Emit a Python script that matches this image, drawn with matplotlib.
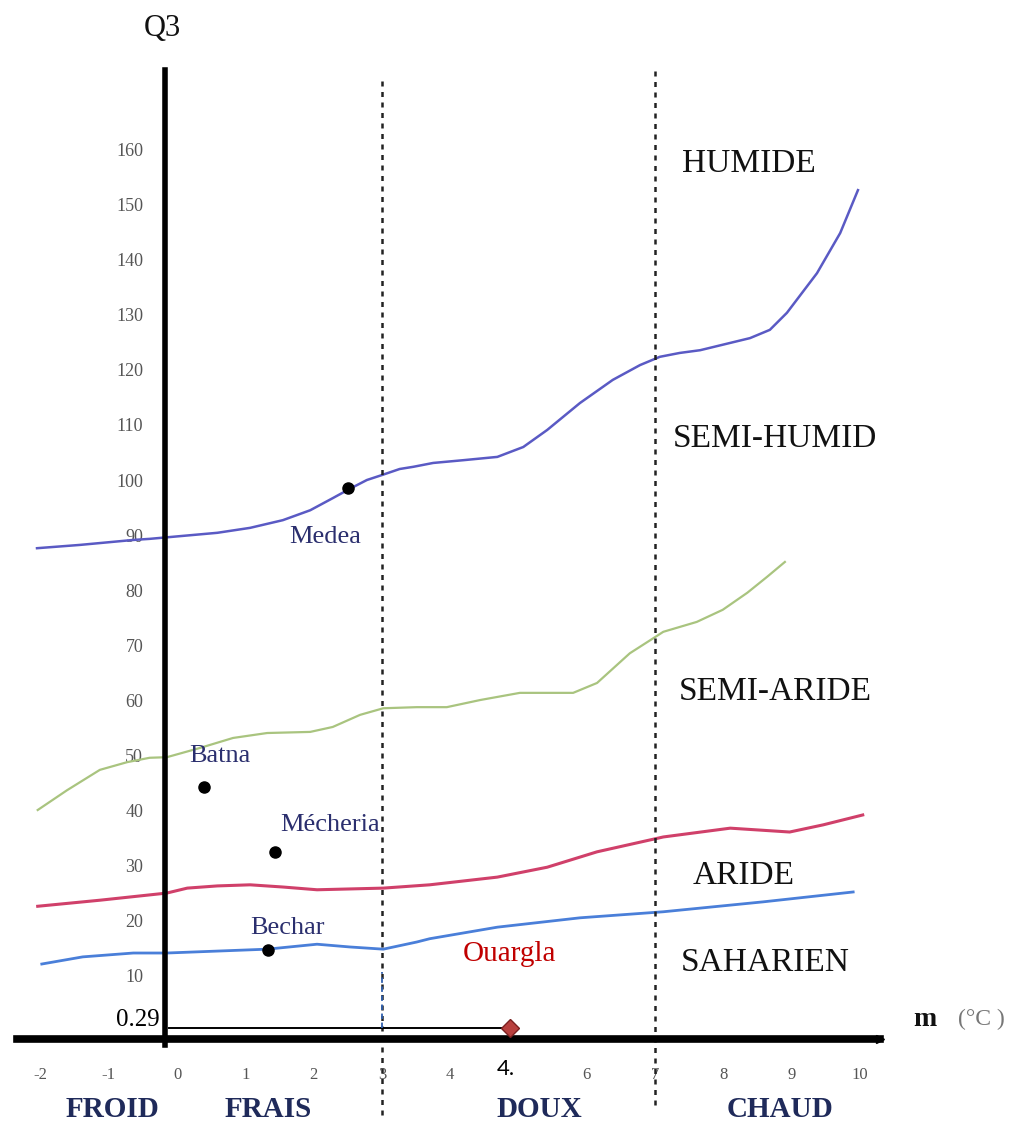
import numpy as np
import matplotlib
matplotlib.use("Agg")
import matplotlib.pyplot as plt

plt.rcParams['font.family'] = 'Liberation Serif'
plt.rcParams['axes.unicode_minus'] = False

# boundary curves of the climagram (m in degC, Q3)
humide_m = [-2.05, -1.42, -0.64, -0.40, 0.59, 1.07, 1.55, 1.95, 2.28, 2.53, 2.78, 3.00, 3.26,
            3.46, 3.75, 4.19, 4.69, 5.07, 5.42, 5.90, 6.38, 6.78, 7.07, 7.36, 7.66, 8.39, 8.68,
            8.93, 9.37, 9.71, 9.97]
humide_q = [87.6, 88.2, 89.1, 89.3, 90.4, 91.3, 92.7, 94.5, 96.7, 98.4, 100.0, 100.9, 102.0,
            102.4, 103.1, 103.6, 104.2, 106.0, 109.1, 114.0, 118.2, 120.9, 122.4, 123.1, 123.6,
            125.8, 127.3, 130.4, 137.6, 144.9, 152.7]

semiaride_m = [-2.04, -1.61, -1.13, -0.73, -0.40, -0.15, 0.34, 0.82, 1.32, 1.95, 2.28, 2.68,
               3.02, 3.51, 3.95, 4.44, 5.02, 5.80, 6.15, 6.63, 7.12, 7.61, 7.99, 8.35, 8.64, 8.90]
semiaride_q = [40.0, 43.6, 47.3, 48.7, 49.5, 49.6, 51.3, 53.1, 54.0, 54.2, 55.1, 57.3,
               58.5, 58.7, 58.7, 60.0, 61.3, 61.3, 63.1, 68.5, 72.4, 74.2, 76.4, 79.5, 82.4, 85.1]

aride_m = [-2.04, -1.13, -0.15, 0.15, 0.59, 1.07, 1.55, 2.05, 3.02, 3.70, 4.69, 5.42, 6.15,
           7.12, 8.10, 8.97, 9.46, 10.04]
aride_q = [22.5, 23.6, 24.9, 25.8, 26.2, 26.4, 26.0, 25.5, 25.8, 26.4, 27.8, 29.6, 32.4,
           35.1, 36.7, 36.0, 37.3, 39.1]

saharien_m = [-1.98, -1.38, -0.64, -0.15, 1.32, 2.05, 2.53, 3.02, 3.51, 3.70, 4.69, 5.90,
              7.12, 8.58, 9.90]
saharien_q = [12.0, 13.3, 14.0, 14.0, 14.7, 15.6, 15.1, 14.7, 16.0, 16.6, 18.7, 20.4,
              21.5, 23.3, 25.1]

# stations
stations = ['Medea', 'Batna', 'Mécheria', 'Bechar']
st_m = [2.51, 0.40, 1.43, 1.33]
st_q = [98.6, 44.2, 32.4, 14.5]

ouargla_m = 4.88
ouargla_q = 0.29

zones = ['HUMIDE', 'SEMI-HUMID', 'SEMI-ARIDE', 'ARIDE', 'SAHARIEN']
zone_q = [157.5, 107.5, 61.5, 28.0, 12.3]
zone_m = [8.37, 8.76, 8.76, 8.30, 8.61]
winters = ['FROID', 'FRAIS', 'DOUX', 'CHAUD']
winter_m = [-0.95, 1.33, 5.31, 8.83]

xticks = [-2, -1, 0, 1, 2, 3, 4, 6, 7, 8, 9, 10]
yticks = list(range(10, 170, 10))

fig = plt.figure(figsize=(10.19, 11.37), dpi=100)
ax = fig.add_axes([0, 0, 1, 1])
ax.set_xlim(-2.592, 12.328)
ax.set_ylim(-19.45, 187.27)

ax.plot(humide_m, humide_q, color='#5a5ac4', lw=1.8, zorder=2)
ax.plot(semiaride_m, semiaride_q, color='#a9c47f', lw=1.6, zorder=2)
ax.plot(aride_m, aride_q, color='#d0406a', lw=2.2, zorder=2)
ax.plot(saharien_m, saharien_q, color='#4a7fd9', lw=2.0, zorder=2)

# winter type limits
ax.plot([3, 3], [-15.5, 173.5], color='#222222', lw=1.8, ls=(0, (2, 2.2)), zorder=3)
ax.plot([7, 7], [-13.7, 175.0], color='#222222', lw=1.8, ls=(0, (2, 2.2)), zorder=3)

# axes as crossing lines
ax.spines['top'].set_visible(False)
ax.spines['right'].set_visible(False)
ax.spines['left'].set_position(('data', -0.17))
ax.spines['left'].set_bounds(-2.7, 174.5)
ax.spines['left'].set_linewidth(4)
ax.spines['bottom'].set_position(('data', -1.6))
ax.spines['bottom'].set_bounds(-2.35, 10.3)
ax.spines['bottom'].set_linewidth(5.5)
ax.spines['left'].set_zorder(5)
ax.spines['bottom'].set_zorder(5)
ax.set_xticks(xticks)
ax.set_yticks(yticks)
ax.tick_params(axis='y', length=0, pad=16, labelsize=13, labelcolor='#555555')
ax.tick_params(axis='x', length=0, pad=20, labelsize=12, labelcolor='#555555')
ax.plot([10.3], [-1.6], marker='>', color='black', markersize=6, zorder=5, clip_on=False)

# Ouargla
ax.plot([-0.12, ouargla_m], [ouargla_q, ouargla_q], color='black', lw=1.4, zorder=4)
ax.plot([3, 3], [ouargla_q, 10.5], color='#2f5fae', lw=1.3, ls=(0, (3, 2)), zorder=4)
ax.plot([ouargla_m], [ouargla_q], marker='D', markersize=9, color='#b8403e',
        markeredgecolor='#7a2020', zorder=6)
ax.text(ouargla_m - 0.06, -7.0, '4.', fontsize=16, family='Lato', color='black',
        ha='center', va='center')
ax.text(-0.26, 1.9, f'{ouargla_q}', fontsize=18, color='black', ha='right', va='center')
ax.text(4.87, 13.8, 'Ouargla', fontsize=21, color='#c00000', ha='center', va='center')

# other stations
ax.plot(st_m, st_q, 'o', color='black', markersize=8, zorder=4)
label_pos = [(2.17, 89.6), (0.62, 49.8), (2.24, 37.3), (1.62, 18.6)]
for name, (lx, ly) in zip(stations, label_pos):
    ax.text(lx, ly, name, fontsize=19, color='#2b2f6e', ha='center', va='center')

for name, m, q in zip(zones, zone_m, zone_q):
    ax.text(m, q, name, fontsize=24, color='#111111', ha='center', va='center')

for name, m in zip(winters, winter_m):
    ax.text(m, -14.5, name, fontsize=21, fontweight='bold', color='#1f2a5a',
            ha='center', va='center')

ax.text(-0.22, 182.0, 'Q3', fontsize=22, color='#111111', ha='center', va='center')
ax.text(10.95, 1.9, 'm', fontsize=20, fontweight='bold', color='#111111', ha='center', va='center')
ax.text(11.78, 1.9, '(°C )', fontsize=17, color='#777777', ha='center', va='center')

fig.savefig('out.png', dpi=100)
